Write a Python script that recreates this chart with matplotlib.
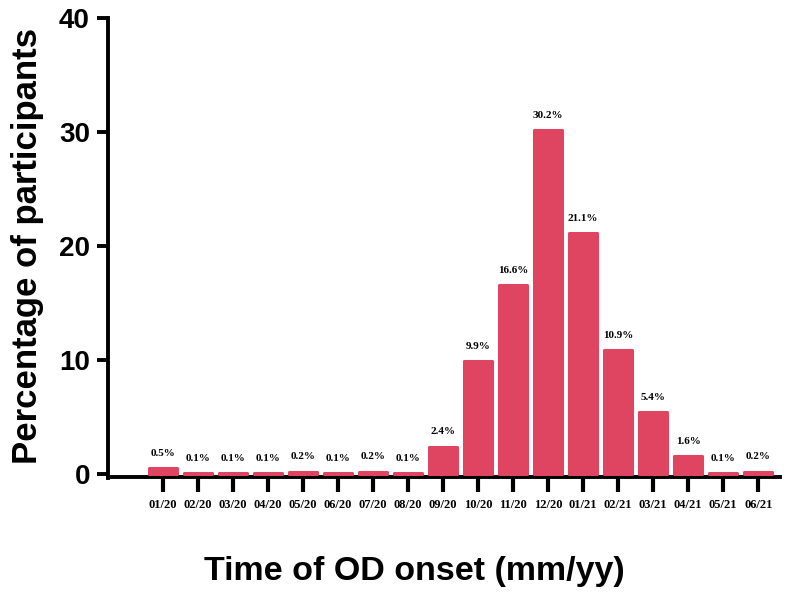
import matplotlib
matplotlib.use('Agg')
import matplotlib.pyplot as plt

months = ['01/20', '02/20', '03/20', '04/20', '05/20', '06/20', '07/20', '08/20', '09/20',
          '10/20', '11/20', '12/20', '01/21', '02/21', '03/21', '04/21', '05/21', '06/21']
percent = [0.5, 0.1, 0.1, 0.1, 0.2, 0.1, 0.2, 0.1, 2.4,
           9.9, 16.6, 30.2, 21.1, 10.9, 5.4, 1.6, 0.1, 0.2]
labels = ['0.5%', '0.1%', '0.1%', '0.1%', '0.2%', '0.1%', '0.2%', '0.1%', '2.4%',
          '9.9%', '16.6%', '30.2%', '21.1%', '10.9%', '5.4%', '1.6%', '0.1%', '0.2%']

barColor = '#DF4560'

fig = plt.figure(figsize=(7.97, 6.02), dpi=100)
ax = fig.add_axes([0.1355, 0.2126, 0.8435, 0.7574])

for s in ['top', 'right']:
    ax.spines[s].set_visible(False)
for s in ['left', 'bottom']:
    ax.spines[s].set_linewidth(2.8)
# axis line sits just under the bars, so the tiny ones stay visible
ax.spines['bottom'].set_position(('outward', 2))

x = list(range(len(months)))
bars = ax.bar(x, percent, width=0.8, color=barColor, edgecolor=barColor, linewidth=2.2,
              joinstyle='round', zorder=3, clip_on=False)
for b, t in zip(bars, labels):
    ax.text(b.get_x() + b.get_width() / 2, b.get_height() + 0.9, t, ha='center', va='bottom',
            fontsize=8, fontweight='bold', family='Liberation Serif')

ax.set_xlim(-1.57, 17.63)
ax.set_ylim(0, 40)
ax.spines['left'].set_bounds(-0.32, 40)
ax.set_yticks([0, 10, 20, 30, 40])
ax.set_xticks(x)
ax.set_xticklabels(months, family='Liberation Serif', fontweight='bold', fontsize=9)
for lab in ax.get_yticklabels():
    lab.set_family('Liberation Sans')
    lab.set_fontweight('bold')
    lab.set_fontsize(20)

ax.tick_params(axis='y', length=8, width=2.8, pad=5)
ax.tick_params(axis='x', length=11, width=3, pad=5)

ax.set_ylabel('Percentage of participants', family='Liberation Sans', fontweight='bold',
              fontsize=25, labelpad=11)
fig.text(0.52, 0.05, 'Time of OD onset (mm/yy)', ha='center', va='center',
         family='Liberation Sans', fontweight='bold', fontsize=24.5)

fig.savefig('out.png', dpi=100)
